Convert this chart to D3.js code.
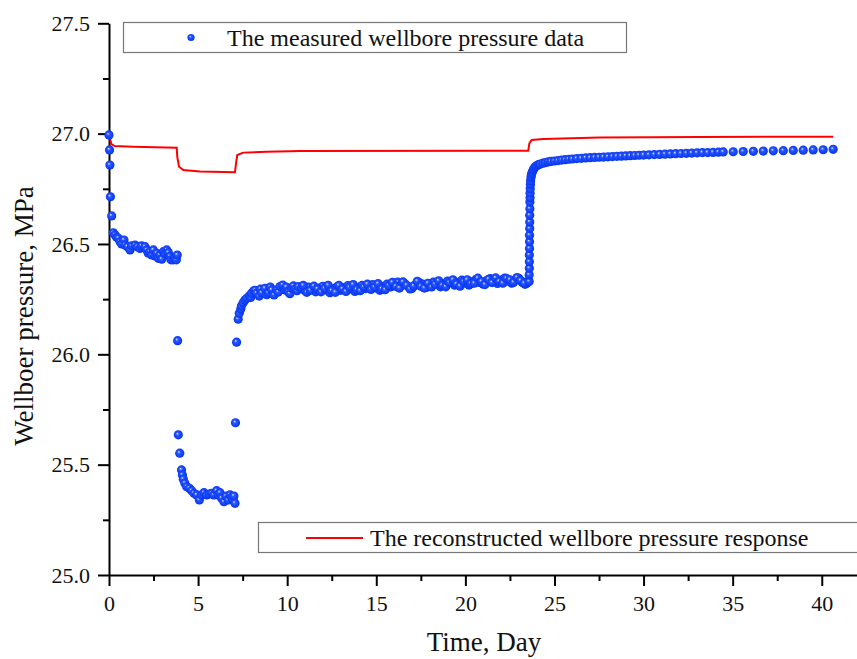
<!DOCTYPE html>
<html>
<head>
<meta charset="utf-8">
<script src="https://cdn.jsdelivr.net/npm/d3@7"></script>
<style>
  body { margin: 0; background: #fff; }
  svg { font-family: "Times New Roman", "Liberation Serif", serif; }
</style>
</head>
<body>
<svg id="chart" width="857" height="659"></svg>
<script>
// data: [day, MPa]
const reconstructed = [
  [0, 27.0], [0.13, 26.953], [0.32, 26.944], [1.35, 26.941], [3.80, 26.936],
  [3.83, 26.896], [3.93, 26.85], [4.17, 26.835], [5.1, 26.828], [7.07, 26.825],
  [7.13, 26.866], [7.2, 26.903], [7.53, 26.914], [8.84, 26.918], [10.72, 26.921],
  [21.94, 26.923], [23.53, 26.923], [23.59, 26.956], [23.72, 26.971], [24.37, 26.976],
  [27.55, 26.982], [33.16, 26.985], [40.64, 26.986]
];

const drawdown1 = [
  [0.0, 26.994], [0.03, 26.926], [0.05, 26.858], [0.08, 26.714], [0.15, 26.627],
  [0.24, 26.551], [0.34, 26.541], [0.43, 26.530], [0.52, 26.526], [0.62, 26.510],
  [0.71, 26.500], [0.84, 26.518], [0.90, 26.495], [1.03, 26.488], [1.18, 26.473],
  [1.27, 26.491], [1.46, 26.495], [1.59, 26.488], [1.74, 26.480], [1.83, 26.491],
  [2.02, 26.488], [2.12, 26.473], [2.21, 26.458], [2.30, 26.465], [2.40, 26.450],
  [2.49, 26.473], [2.58, 26.446], [2.68, 26.458], [2.77, 26.435], [2.86, 26.450],
  [2.96, 26.431], [3.05, 26.465], [3.14, 26.458], [3.24, 26.473], [3.33, 26.461],
  [3.42, 26.443], [3.48, 26.428], [3.61, 26.428], [3.70, 26.435], [3.78, 26.428],
  [3.83, 26.450]
];

const drawdown2 = [
  [3.85, 26.062], [3.89, 25.635], [3.97, 25.552], [4.07, 25.476], [4.12, 25.453],
  [4.17, 25.434], [4.26, 25.416], [4.36, 25.400], [4.51, 25.393], [4.64, 25.382],
  [4.77, 25.370], [4.92, 25.363], [5.07, 25.340], [5.20, 25.363], [5.33, 25.373],
  [5.48, 25.363], [5.63, 25.367], [5.76, 25.370], [5.89, 25.363], [6.04, 25.382],
  [6.13, 25.363], [6.23, 25.373], [6.32, 25.348], [6.45, 25.332], [6.57, 25.358],
  [6.69, 25.340], [6.79, 25.363], [6.89, 25.352], [6.98, 25.340], [7.01, 25.358],
  [7.07, 25.325]
];

const buildup1 = [
  [7.10, 25.690], [7.16, 26.055], [7.25, 26.159], [7.31, 26.186], [7.39, 26.204],
  [7.43, 26.219], [7.53, 26.234], [7.63, 26.246], [7.73, 26.254], [7.87, 26.264],
  [7.95, 26.258], [8.00, 26.277], [8.13, 26.288], [8.2, 26.290], [8.28, 26.277],
  [8.43, 26.264], [8.5, 26.295], [8.57, 26.279], [8.75, 26.299], [8.85, 26.270],
  [8.94, 26.279], [9.05, 26.305], [9.13, 26.292], [9.26, 26.269], [9.41, 26.292],
  [9.5, 26.282], [9.60, 26.307], [9.75, 26.314], [9.88, 26.292], [9.95, 26.305],
  [10.06, 26.284], [10.15, 26.275], [10.25, 26.299], [10.35, 26.310], [10.44, 26.295],
  [10.55, 26.288], [10.62, 26.307], [10.8, 26.300], [11.0, 26.288], [11.2, 26.305],
  [11.4, 26.296], [11.6, 26.283], [11.8, 26.300], [12.0, 26.308], [12.2, 26.292],
  [12.4, 26.279], [12.6, 26.297], [12.8, 26.306], [13.0, 26.290], [13.2, 26.302],
  [13.4, 26.311], [13.6, 26.296], [13.8, 26.285], [14.0, 26.303], [14.2, 26.312],
  [14.4, 26.298], [14.6, 26.306], [14.8, 26.316], [15.0, 26.300], [15.2, 26.290],
  [15.4, 26.308], [15.6, 26.318], [15.8, 26.305], [16.0, 26.322], [16.2, 26.327],
  [16.4, 26.312], [16.6, 26.320], [16.8, 26.306], [17.0, 26.298], [17.2, 26.314],
  [17.4, 26.325], [17.6, 26.318], [17.8, 26.303], [18.0, 26.312], [18.2, 26.327],
  [18.4, 26.318], [18.6, 26.306], [18.8, 26.320], [19.0, 26.332], [19.2, 26.324],
  [19.4, 26.313], [19.6, 26.326], [19.8, 26.336], [20.0, 26.322], [20.2, 26.314],
  [20.4, 26.330], [20.6, 26.340], [20.8, 26.326], [21.0, 26.318], [21.2, 26.334],
  [21.4, 26.343], [21.6, 26.330], [21.8, 26.321], [22.0, 26.336], [22.2, 26.345],
  [22.4, 26.331], [22.6, 26.322], [22.8, 26.338], [23.0, 26.344], [23.2, 26.326],
  [23.35, 26.317], [23.45, 26.322], [23.5, 26.330]
];

// second pass of readings in the same noisy band (between the points above)
const buildup1b = [
  [10.9, 26.312], [11.1, 26.281], [11.3, 26.290], [11.5, 26.309], [11.7, 26.296],
  [11.9, 26.283], [12.1, 26.299], [12.3, 26.313], [12.5, 26.288], [12.7, 26.281],
  [12.9, 26.312], [13.1, 26.296], [13.3, 26.285], [13.5, 26.304], [13.7, 26.316],
  [13.9, 26.293], [14.1, 26.288], [14.3, 26.305], [14.5, 26.318], [14.7, 26.294],
  [14.9, 26.305], [15.1, 26.320], [15.3, 26.297], [15.5, 26.293], [15.7, 26.312],
  [15.9, 26.326], [16.1, 26.308], [16.3, 26.300], [16.5, 26.328], [16.7, 26.313],
  [16.9, 26.296], [17.1, 26.310], [17.3, 26.331], [17.5, 26.308], [17.7, 26.300],
  [17.9, 26.322], [18.1, 26.305], [18.3, 26.318], [18.5, 26.333], [18.7, 26.312],
  [18.9, 26.306], [19.1, 26.326], [19.3, 26.338], [19.5, 26.318], [19.7, 26.309],
  [19.9, 26.330], [20.1, 26.338], [20.3, 26.320], [20.5, 26.322], [20.7, 26.345],
  [20.9, 26.330], [21.1, 26.316], [21.3, 26.340], [21.5, 26.325], [21.7, 26.346],
  [21.9, 26.330], [22.1, 26.322], [22.3, 26.344], [22.5, 26.338], [22.7, 26.326],
  [22.9, 26.348], [23.1, 26.334], [23.3, 26.322]
];

const buildup2 = [
  [23.58, 26.33], [23.58, 26.36], [23.59, 26.39], [23.59, 26.42], [23.59, 26.45],
  [23.60, 26.48], [23.60, 26.51], [23.60, 26.54], [23.61, 26.57], [23.61, 26.60],
  [23.61, 26.63], [23.62, 26.66], [23.62, 26.69], [23.63, 26.71], [23.63, 26.73],
  [23.64, 26.75], [23.65, 26.77], [23.66, 26.785], [23.68, 26.80], [23.70, 26.81],
  [23.73, 26.82], [23.77, 26.83], [23.82, 26.838], [23.88, 26.845], [23.95, 26.851],
  [24.03, 26.856], [24.12, 26.860], [24.2, 26.862], [24.35, 26.866], [24.5, 26.869],
  [24.65, 26.872], [24.8, 26.874], [25.0, 26.876], [25.2, 26.878], [25.4, 26.880],
  [25.6, 26.882], [25.8, 26.884], [26.0, 26.885], [26.25, 26.887], [26.5, 26.888],
  [26.75, 26.890], [27.0, 26.891], [27.25, 26.892], [27.5, 26.893], [27.75, 26.894],
  [28.0, 26.895], [28.25, 26.896], [28.5, 26.897], [28.75, 26.898], [29.0, 26.899],
  [29.25, 26.900], [29.5, 26.901], [29.75, 26.902], [30.0, 26.903], [30.3, 26.904],
  [30.6, 26.905], [30.9, 26.906], [31.2, 26.907], [31.5, 26.908], [31.8, 26.909],
  [32.1, 26.910], [32.4, 26.911], [32.7, 26.912], [33.0, 26.913], [33.3, 26.914],
  [33.6, 26.914], [33.9, 26.915], [34.2, 26.916], [34.47, 26.917], [35.03, 26.918],
  [35.59, 26.919], [36.16, 26.920], [36.72, 26.921], [37.28, 26.922], [37.84, 26.923],
  [38.40, 26.924], [38.96, 26.925], [39.52, 26.926], [40.08, 26.927], [40.64, 26.929]
];

const xMajor = [0, 5, 10, 15, 20, 25, 30, 35, 40];
const xMinor = [2.5, 7.5, 12.5, 17.5, 22.5, 27.5, 32.5, 37.5];
const yMajor = [25.0, 25.5, 26.0, 26.5, 27.0, 27.5];
const yMinor = [25.25, 25.75, 26.25, 26.75, 27.25];

const svg = d3.select("#chart");

const x = d3.scaleLinear().domain([0, 42]).range([109, 857.4]);
const y = d3.scaleLinear().domain([25, 27.5]).range([575, 23.3]);

// sphere look for the markers
const grad = svg.append("defs").append("radialGradient")
  .attr("id", "ball").attr("cx", "50%").attr("cy", "50%").attr("r", "55%")
  .attr("fx", "38%").attr("fy", "35%");
grad.append("stop").attr("offset", "0%").attr("stop-color", "#d8e0ff");
grad.append("stop").attr("offset", "30%").attr("stop-color", "#2b57ff");
grad.append("stop").attr("offset", "100%").attr("stop-color", "#0030ee");

// axes
svg.append("g").attr("transform", "translate(0,575)")
  .call(d3.axisBottom(x).tickValues(xMajor).tickSize(11).tickSizeOuter(0).tickPadding(9));
svg.append("g").attr("transform", "translate(0,575)")
  .call(d3.axisBottom(x).tickValues(xMinor).tickSize(6).tickSizeOuter(0).tickFormat(""))
  .select(".domain").remove();

svg.append("g").attr("transform", "translate(109,0)")
  .call(d3.axisLeft(y).tickValues(yMajor).tickSize(11).tickSizeOuter(0).tickPadding(8)
    .tickFormat(d3.format(".1f")));
svg.append("g").attr("transform", "translate(109,0)")
  .call(d3.axisLeft(y).tickValues(yMinor).tickSize(6).tickSizeOuter(0).tickFormat(""))
  .select(".domain").remove();

svg.selectAll(".tick line, .domain").attr("stroke", "#000").attr("stroke-width", 2);
svg.selectAll(".tick text").attr("font-size", 22).attr("fill", "#111")
  .attr("font-family", "'Times New Roman', 'Liberation Serif', serif");

// axis titles
svg.append("text").attr("x", 484).attr("y", 651).attr("text-anchor", "middle")
  .attr("font-size", 27).attr("fill", "#111").text("Time, Day");
svg.append("text").attr("transform", "translate(33,316) rotate(-90)")
  .attr("text-anchor", "middle").attr("font-size", 27).attr("fill", "#111")
  .text("Wellboer pressure, MPa");

// reconstructed response
const line = d3.line().x(d => x(d[0])).y(d => y(d[1]));
svg.append("path").datum(reconstructed)
  .attr("d", line).attr("fill", "none").attr("stroke", "#ff0000").attr("stroke-width", 2);

// measured points
const measured = [].concat(drawdown1, drawdown2, buildup1, buildup1b, buildup2);
svg.append("g").selectAll("circle")
  .data(measured)
  .join("circle")
  .attr("cx", d => x(d[0]))
  .attr("cy", d => y(d[1]))
  .attr("r", 4.6)
  .attr("fill", "url(#ball)");

// legends
const leg1 = svg.append("g");
leg1.append("rect").attr("x", 123.5).attr("y", 22.5).attr("width", 503).attr("height", 30)
  .attr("fill", "#fff").attr("stroke", "#777").attr("stroke-width", 1.2);
leg1.append("circle").attr("cx", 191).attr("cy", 37.5).attr("r", 3.6).attr("fill", "url(#ball)");
leg1.append("text").attr("x", 227).attr("y", 45.5).attr("font-size", 24).attr("fill", "#111")
  .text("The measured wellbore pressure data");

const leg2 = svg.append("g");
leg2.append("rect").attr("x", 258.5).attr("y", 522.5).attr("width", 610).attr("height", 30)
  .attr("fill", "#fff").attr("stroke", "#777").attr("stroke-width", 1.2);
leg2.append("line").attr("x1", 306).attr("x2", 363).attr("y1", 538).attr("y2", 538)
  .attr("stroke", "#ff0000").attr("stroke-width", 2);
leg2.append("text").attr("x", 370).attr("y", 546).attr("font-size", 24).attr("fill", "#111")
  .text("The reconstructed wellbore pressure response");
</script>
</body>
</html>
